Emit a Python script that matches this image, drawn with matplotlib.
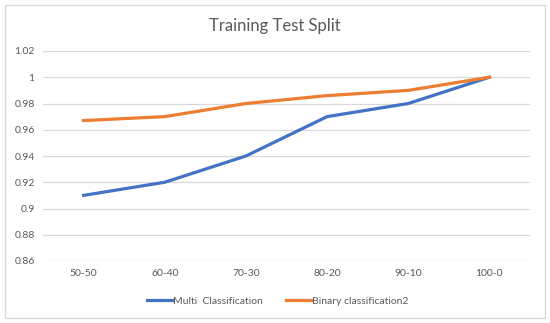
import matplotlib
matplotlib.use('Agg')
from matplotlib import pyplot as plt
from matplotlib.patches import Rectangle

splits = ['50-50', '60-40', '70-30', '80-20', '90-10', '100-0']
multi = [0.91, 0.92, 0.94, 0.97, 0.98, 1.0]
binary = [0.967, 0.97, 0.98, 0.986, 0.99, 1.0]
yticks = [0.86, 0.88, 0.9, 0.92, 0.94, 0.96, 0.98, 1.0, 1.02]
ylabels = ['0.86', '0.88', '0.9', '0.92', '0.94', '0.96', '0.98', '1', '1.02']

plt.rcParams['font.family'] = ['Lato', 'DejaVu Sans']
fig = plt.figure(figsize=(5.5, 3.23), dpi=100)
fig.patches.append(Rectangle((5/550, 5/323), 540/550, 313/323, transform=fig.transFigure,
                             fill=False, edgecolor='#d9d9d9', linewidth=1))
ax = fig.add_axes([43/550, 62/323, 487/550, 210/323])

x = range(len(splits))
ax.plot(x, multi, color='#4472C4', linewidth=2.3, label='Multi  Classification')
ax.plot(x, binary, color='#ED7D31', linewidth=2.3, label='Binary classification2')

ax.set_xlim(-0.5, len(splits) - 0.5)
ax.set_ylim(0.86, 1.02)
ax.set_yticks(yticks)
ax.set_yticklabels(ylabels)
ax.set_xticks(list(x))
ax.set_xticklabels(splits)
ax.grid(axis='y', color='#d9d9d9', linewidth=0.9)
ax.set_axisbelow(True)
for s in ax.spines.values():
    s.set_visible(False)
ax.tick_params(length=0, labelsize=7.5, colors='#595959', pad=6)

fig.text(0.5, 1 - 26/323, 'Training Test Split', ha='center', va='center',
         fontsize=12, color='#595959')
fig.legend(loc='center', bbox_to_anchor=(0.505, 1 - 301/323), ncol=2, frameon=False,
           fontsize=7.5, labelcolor='#595959', handlelength=2.4, handletextpad=0.15,
           columnspacing=2.2)

fig.savefig('out.png', dpi=100)
